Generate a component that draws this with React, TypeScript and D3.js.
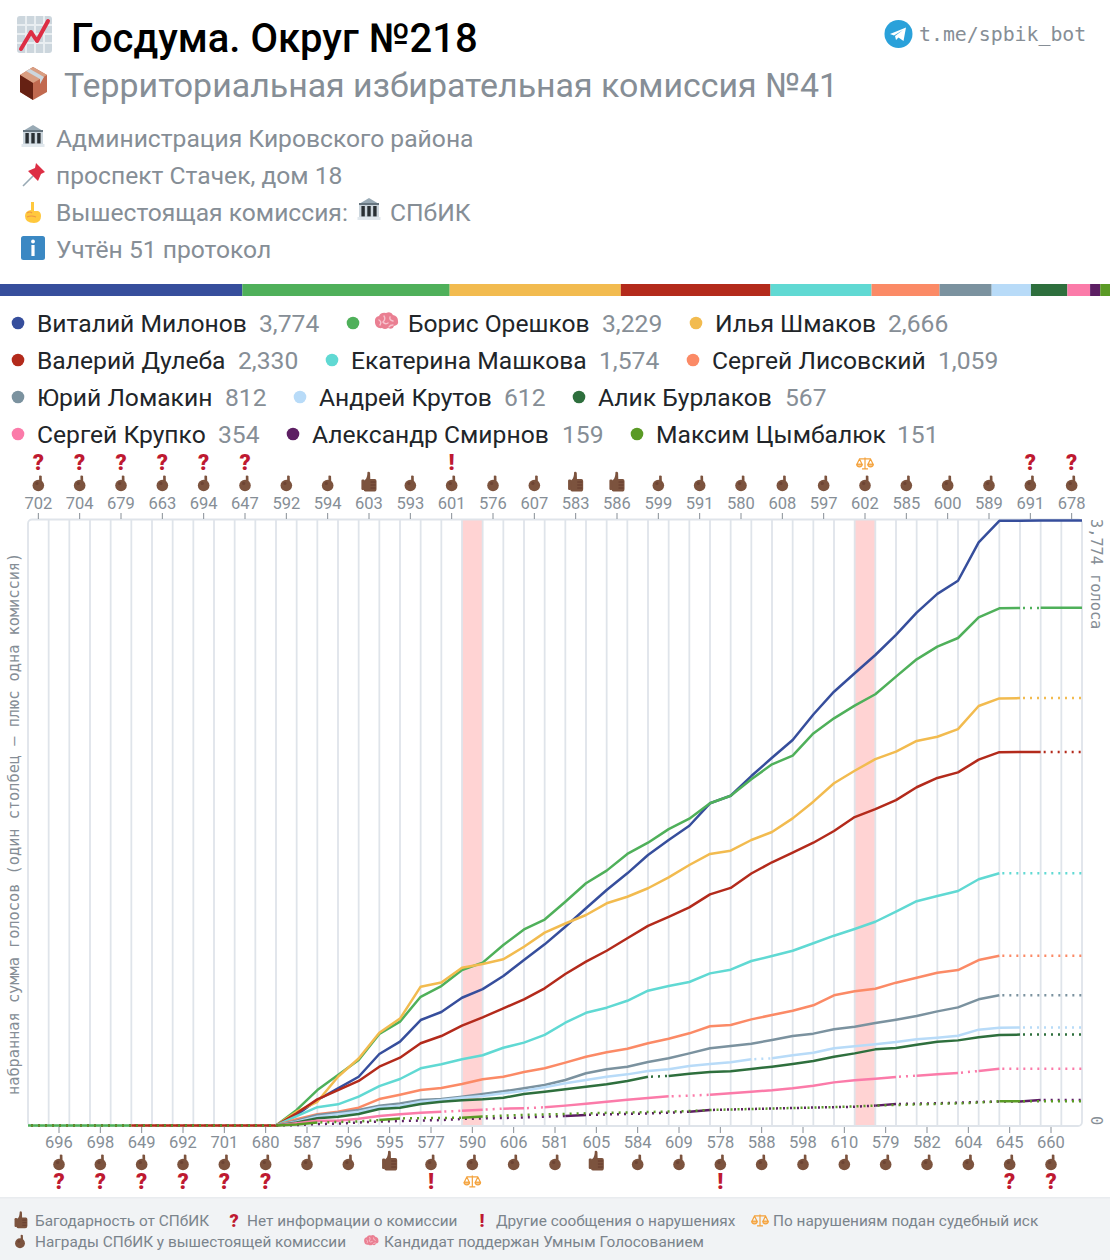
import React from "react";
import * as d3 from "d3";

const topLabels = ["702","704","679","663","694","647","592","594","603","593","601","576","607","583","586","599","591","580","608","597","602","585","600","589","691","678"];
const bottomLabels = ["696","698","649","692","701","680","587","596","595","577","590","606","581","605","584","609","578","588","598","610","579","582","604","645","660"];
const thumbLabels = ["603","583","586","595","605"];
const questionLabels = ["702","704","679","663","694","647","691","678","696","698","649","692","701","680","645","660"];
const alertLabels = ["601","577","578"];
const lawsuitLabels = ["602","590"];

const names = ["Виталий Милонов","Борис Орешков","Илья Шмаков","Валерий Дулеба","Екатерина Машкова","Сергей Лисовский","Юрий Ломакин","Андрей Крутов","Алик Бурлаков","Сергей Крупко","Александр Смирнов","Максим Цымбалюк"];
const totals = [3774,3229,2666,2330,1574,1059,812,612,567,354,159,151];
const colors = ["#364e9c","#4fb05a","#f2bb4f","#b32a1b","#60d9d3","#fb8a66","#7b929f","#b8dbf8","#2e6f3d","#fb7ba9","#5d1f63","#5a9a25"];

const milonov = [0,0,0,0,0,0,0,0,0,0,0,0,0,66,159,232,304,446,523,658,708,797,851,933,1032,1130,1240,1355,1469,1573,1687,1781,1870,2010,2057,2180,2294,2405,2564,2706,2821,2935,3060,3199,3316,3398,3638,3772,3773,3774,3774,3774];
const oreshkov = [0,0,0,0,0,0,0,0,0,0,0,0,0,97,221,315,409,571,648,803,870,970,1016,1126,1223,1285,1396,1511,1590,1694,1764,1849,1914,2010,2057,2160,2253,2307,2446,2540,2619,2690,2800,2908,2987,3041,3170,3226,3228,3229,3229,3229];
const shmakov = [0,0,0,0,0,0,0,0,0,0,0,0,0,86,148,304,418,579,667,866,892,984,1007,1037,1115,1203,1260,1313,1386,1427,1480,1548,1625,1694,1714,1781,1831,1916,2020,2135,2213,2285,2332,2399,2425,2473,2617,2664,2666,2666,2666,2666];
const duleba = [0,0,0,0,0,0,0,0,0,0,0,0,0,76,163,221,278,367,423,513,558,623,675,731,787,856,945,1022,1090,1168,1245,1302,1361,1442,1482,1572,1642,1702,1764,1837,1924,1974,2030,2110,2168,2203,2282,2329,2330,2330,2330,2330];
const mashkova = [0,0,0,0,0,0,0,0,0,0,0,0,0,59,114,132,180,246,290,357,382,413,438,485,517,565,641,703,735,778,841,870,895,949,972,1026,1057,1090,1137,1184,1226,1271,1334,1399,1432,1463,1536,1574,1574,1574,1574,1574];
const lisovsky = [0,0,0,0,0,0,0,0,0,0,0,0,0,39,70,86,111,165,192,221,234,259,288,304,334,357,392,429,457,479,513,541,575,619,627,662,689,716,750,812,837,853,891,922,953,970,1032,1059,1059,1059,1059,1059];
const lomakin = [0,0,0,0,0,0,0,0,0,0,0,0,0,30,66,80,97,124,138,159,165,180,197,213,232,253,284,326,351,367,396,419,450,482,496,510,533,558,573,600,616,639,660,683,712,737,787,812,812,812,812,812];
const krutov = [0,0,0,0,0,0,0,0,0,0,0,0,0,24,55,70,86,114,124,148,159,173,184,201,217,238,263,284,304,319,340,351,371,384,394,413,419,438,454,482,494,507,521,538,548,560,598,610,612,612,612,612];
const burlakov = [0,0,0,0,0,0,0,0,0,0,0,0,0,19,45,55,72,103,111,134,148,157,163,173,197,211,226,242,257,278,304,309,323,334,338,352,367,384,402,429,450,475,483,504,523,531,550,565,567,567,567,567];
const krupko = [0,0,0,0,0,0,0,0,0,0,0,0,0,14,30,30,42,59,70,80,86,92,99,105,107,114,124,136,148,161,172,182,186,192,201,211,220,232,248,269,282,292,303,311,319,328,340,354,354,354,354,354];
const smirnov = [0,0,0,0,0,0,0,0,0,0,0,0,0,3,9,12,19,25,28,31,34,41,44,47,50,55,59,66,69,72,75,80,86,97,100,103,106,109,112,114,117,124,134,136,139,142,147,150,150,159,159,159];
const tsymbalyuk = [0,0,0,0,0,0,0,0,0,0,0,0,0,6,19,22,25,34,44,46,47,49,56,61,66,69,72,76,79,81,84,87,90,97,100,103,106,109,112,115,119,124,128,131,135,138,143,151,151,151,151,151];
const seriesValues = [milonov,oreshkov,shmakov,duleba,mashkova,lisovsky,lomakin,krutov,burlakov,krupko,smirnov,tsymbalyuk];

// columns where a candidate's line is dotted
const E = [0,1,2,3,4,5,6,7,8,9,10,11];
const dottedMilonov = E;
const dottedOreshkov = [5,6,7,8,9,10,11,48];
const dottedShmakov = [...E,48,49,50];
const dottedDuleba = [0,1,2,3,4,49,50];
const dottedMashkova = [...E,47,48,49,50];
const dottedLisovsky = [...E,47,48,49,50];
const dottedLomakin = [...E,47,48,49,50];
const dottedKrutov = [...E,35,48,49,50];
const dottedBurlakov = [...E,30,48,49,50];
const dottedKrupko = [...E,20,22,24,31,32,42,45,47,48,49,50];
const solidSmirnov = [26,32,41,48];
const solidTsymbalyuk = [12,13,17,21,47];

const allCols = d3.range(51);
const dottedBySeries = [dottedMilonov,dottedOreshkov,dottedShmakov,dottedDuleba,dottedMashkova,dottedLisovsky,dottedLomakin,dottedKrutov,dottedBurlakov,dottedKrupko,
  allCols.filter(c=>!solidSmirnov.includes(c)), allCols.filter(c=>!solidTsymbalyuk.includes(c))];

const bandCols = [21,40];

const SANS = "Roboto, sans-serif";
const MONO = "'DejaVu Sans Mono', monospace";
const GRAY = "#868e96";
const FOOT = "#7b848c";
const W = 1110, H = 1260;
const L = 28, R = 1082, T = 520, B = 1126;

// legend layout: [dotX, nameX, valueX] per candidate, in names order
const legendLayout = [[18,37,259],[353,408,602],[696,715,888],[18,37,238],[332,351,599],[693,712,938],[18,37,225],[300,319,504],[579,598,785],[18,37,218],[293,312,562],[637,656,897]];
const legendRowY = [324,361,398,435];

const Hand = ({x,y,s=1}:{x:number,y:number,s?:number}) => (
  <g transform={`translate(${x},${y}) scale(${s})`} fill="#7c533e">
    <circle cx={0} cy={1.5} r={5.8}/>
    <path d="M0.8 -8.2 q1.6 -.9 2.6 .2 L3.6 0 L0.8 0 Z"/>
    <circle cx={-1.4} cy={-0.6} r={1.6} fill="#60352a" opacity={0.5}/>
  </g>
);
const Thumb = ({x,y,s=1}:{x:number,y:number,s?:number}) => (
  <g transform={`translate(${x},${y}) scale(${s})`} fill="#7c533e">
    <path d="M-1.5 -11 q2 -1 2.6 1 l.2 6 h4.4 q1.8 0 1.8 2 v8 q0 2.6 -2.6 2.6 h-8.4 q-1.8 0 -1.8 -2 v-7.6 q0 -1.4 1.4 -2.2 q2.2 -1.8 2.4 -7.8 Z"/>
    <rect x={-7.6} y={-3.4} width={3.2} height={10.4} rx={1.2}/>
    <path d="M1.6 -1 h5 M1.6 2 h5 M1.6 5 h5" stroke="#60352a" strokeWidth={0.8} fill="none"/>
  </g>
);
const Scales = ({x,y,s=0.85}:{x:number,y:number,s?:number}) => (
  <g transform={`translate(${x},${y}) scale(${s})`} stroke="#f4a23c" strokeWidth={1.4} fill="none" strokeLinejoin="round">
    <path d="M0 -6.5 V6.5 M-3.5 7 H3.5 M-6.5 -4.8 H6.5"/>
    <path d="M-6.5 -4.8 L-9.5 1.5 H-3.5 Z M6.5 -4.8 L3.5 1.5 H9.5 Z"/>
    <path d="M-9.7 1.5 a3.2 3 0 0 0 6.4 0 Z M3.3 1.5 a3.2 3 0 0 0 6.4 0 Z" fill="#f9c78a"/>
  </g>
);
const Mark = ({x,y,ch,size=22}:{x:number,y:number,ch:string,size?:number}) => (
  <text x={x} y={y} textAnchor="middle" fontFamily={SANS} fontWeight={900} fontSize={size} fill="#be1931">{ch}</text>
);
const Brain = ({x,y,s=1}:{x:number,y:number,s?:number}) => (
  <g transform={`translate(${x},${y}) scale(${s})`}>
    <path d="M-11 1 q-1 -6 4 -7 q2 -4 7 -3 q5 -2 7 2 q5 1 5 6 q1 4 -4 5 q-1 4 -6 2 q-3 2 -6 0 q-6 1 -7 -5 Z" fill="#ea7f92"/>
    <path d="M-7 -2 q3 2 1 5 M-2 -6 q2 3 -1 6 q2 3 5 1 M4 -5 q-1 3 3 4 M7 3 q-3 0 -4 2" stroke="#f7c2cd" strokeWidth={1.4} fill="none" strokeLinecap="round"/>
  </g>
);
const Bank = ({x,y,s=1}:{x:number,y:number,s?:number}) => (
  <g transform={`translate(${x},${y}) scale(${s})`}>
    <path d="M-10 -6 L0 -12 L10 -6 Z" fill="#99aab5"/>
    <rect x={-10} y={-7} width={20} height={2.4} fill="#66757f"/>
    <rect x={-10} y={-5} width={20} height={14} fill="#ccd6dd"/>
    <rect x={-7.6} y={-4} width={3.4} height={10.4} fill="#292f33"/>
    <rect x={-1.7} y={-4} width={3.4} height={10.4} fill="#292f33"/>
    <rect x={4.2} y={-4} width={3.4} height={10.4} fill="#292f33"/>
    <rect x={-11.5} y={7} width={23} height={3} fill="#e1e8ed"/>
  </g>
);

export default function App() {
  const x = d3.scaleLinear().domain([0, 51]).range([L, R]);
  const y = d3.scaleLinear().domain([0, 3774]).range([B - 0.5, T + 0.5]);
  const ordered: string[] = [];
  for (let i = 0; i < 26; i++) { ordered.push(topLabels[i]); if (i < 25) ordered.push(bottomLabels[i]); }
  const band = d3.scaleBand<string>().domain(ordered).range([L, R]);
  const stack = d3.scaleLinear().domain([0, d3.sum(totals)]).range([0, W]);
  let acc = 0;
  const stackRects = totals.map((t) => { const r = [acc, t]; acc += t; return r; });

  const pathFor = (vals: number[], cols: number[]) => {
    const line = d3.line<number>().x((i) => x(i)).y((i) => y(vals[i]));
    const sorted = [...cols].sort((a, b) => a - b);
    const runs: number[][] = [];
    sorted.forEach((c) => {
      const last = runs[runs.length - 1];
      if (last && last[1] === c) last[1] = c + 1; else runs.push([c, c + 1]);
    });
    return runs.map(([a, b]) => line(d3.range(a, b + 1))).join("");
  };

  const markers = (label: string, cx: number, handY: number, markY: number, scaleY: number) => (
    <g key={label}>
      {thumbLabels.includes(label) ? <Thumb x={cx} y={handY - 1} /> : <Hand x={cx} y={handY} />}
      {questionLabels.includes(label) && <Mark x={cx} y={markY} ch="?" />}
      {alertLabels.includes(label) && <Mark x={cx} y={markY} ch="!" />}
      {lawsuitLabels.includes(label) && <Scales x={cx} y={scaleY} />}
    </g>
  );

  return (
    <svg width={W} height={H} viewBox={`0 0 ${W} ${H}`} style={{ position: "absolute", left: 0, top: 0, background: "#fff" }} fontFamily={SANS}>
      {/* header */}
      <rect x={17} y={16} width={35} height={37} rx={3} fill="#ccd6dd"/>
      <path d="M17 25 H52 M17 34 H52 M17 43 H52 M26 16 V53 M35 16 V53 M44 16 V53" stroke="#e9eef1" strokeWidth={2}/>
      <path d="M21 49 L31 32 L37 41 L48 21" fill="none" stroke="#dd2e44" strokeWidth={4} strokeLinejoin="round" strokeLinecap="round"/>
      <text x={71} y={52} fontSize={40} fontWeight={500} fill="#000">Госдума. Округ №218</text>

      <path d="M33 67 L47 75 L47 92 L33 100 L20 92 L20 75 Z" fill="#c1694f"/>
      <path d="M33 67 L47 75 L33 83 L20 75 Z" fill="#d99e82"/>
      <path d="M20 75 L33 83 L33 100 L20 92 Z" fill="#662113"/>
      <path d="M26 71 L40 79 L40 84 L44 77 L30 69 Z" fill="#ccd6dd"/>
      <text x={64} y={97} fontSize={33.9} fill={GRAY}>Территориальная избирательная комиссия №41</text>

      <Bank x={33} y={137}/>
      <text x={56} y={147} fontSize={24.65} fill={GRAY}>Администрация Кировского района</text>
      <path d="M23 186 L33 176" stroke="#99aab5" strokeWidth={1.6}/>
      <path d="M36 163 L45 172 L41 174 L38 181 L28 171 L35 168 Z" fill="#dd2e44"/>
      <text x={56} y={184} fontSize={24.65} fill={GRAY}>проспект Стачек, дом 18</text>
      <path d="M31 202 h3 v9 h4 q3 1 3 5 q0 7 -7 7 q-9 0 -9 -7 q0 -5 6 -6 Z" fill="#ffc83d"/>
      <path d="M27 213 q3 -2 5 0 M27 217 q4 -2 9 0" stroke="#ef9645" fill="none" strokeWidth={1.2}/>
      <text x={56} y={221} fontSize={24.65} fill={GRAY}>Вышестоящая комиссия:</text>
      <Bank x={369} y={210}/>
      <text x={390} y={221} fontSize={24.65} fill={GRAY}>СПбИК</text>
      <rect x={21} y={236} width={24} height={24} rx={2.5} fill="#3b88c3"/>
      <circle cx={33} cy={241.5} r={1.9} fill="#fff"/>
      <rect x={31.4} y={245} width={3.2} height={11} fill="#fff"/>
      <text x={56} y={258} fontSize={24.65} fill={GRAY}>Учтён 51 протокол</text>

      <circle cx={898.5} cy={34} r={14} fill="#2aa1da"/>
      <path d="M890 34 L906 27.5 L903.5 41 L898.5 37.5 L896 40 L895 36 L903 30 L894 35.5 Z" fill="#fff"/>
      <text x={919} y={41} fontSize={19.85} fontFamily={MONO} fill={GRAY} >t.me/spbik_bot</text>

      {/* stacked bar */}
      {stackRects.map(([a, t], i) => (
        <rect key={i} x={stack(a)} y={284} width={stack(t)} height={12} fill={colors[i]} />
      ))}

      {/* legend */}
      {names.map((n, i) => {
        const row = Math.floor(i / 3);
        const [dx, nx, vx] = legendLayout[i];
        const ty = legendRowY[row];
        return (
          <g key={n}>
            <circle cx={dx} cy={ty - 1} r={6.3} fill={colors[i]} />
            {i === 1 && <Brain x={386} y={322} />}
            <text x={nx} y={ty + 7.5} fontSize={24.65} fill="#212529">{n}</text>
            <text x={vx} y={ty + 7.5} fontSize={24.65} fill={GRAY}>{d3.format(",")(totals[i])}</text>
          </g>
        );
      })}

      {/* plot frame & grid */}
      {bandCols.map((c) => (
        <rect key={c} x={x(c)} y={T} width={x(c + 1) - x(c)} height={B - T} fill="#ffd3d3" />
      ))}
      <rect x={L} y={T - 0.5} width={R - L} height={B - T + 0.5} rx={4} fill="none" stroke="#dfe4ea" strokeWidth={1.8} />
      {d3.range(1, 51).map((i) => (
        <line key={i} x1={x(i)} x2={x(i)} y1={T} y2={B} stroke="#dfe4ea" strokeWidth={1.8} />
      ))}

      {/* axes */}
      {topLabels.map((l) => {
        const cx = band(l)! + band.bandwidth() / 2;
        return (
          <g key={l}>
            <line x1={cx} x2={cx} y1={513} y2={519} stroke={GRAY} />
            <text x={cx} y={509} textAnchor="middle" fontSize={16.5} fill={GRAY}>{l}</text>
            {markers(l, cx, 484, 470, 463)}
          </g>
        );
      })}
      {bottomLabels.map((l) => {
        const cx = band(l)! + band.bandwidth() / 2;
        return (
          <g key={l}>
            <line x1={cx} x2={cx} y1={1127} y2={1133} stroke={GRAY} />
            <text x={cx} y={1148} textAnchor="middle" fontSize={16.5} fill={GRAY}>{l}</text>
            {markers(l, cx, 1163, 1189, 1181)}
          </g>
        );
      })}

      {/* lines */}
      {seriesValues.map((vals, i) => {
        const dotted = dottedBySeries[i];
        const solid = allCols.filter((c) => !dotted.includes(c));
        return (
          <g key={i} fill="none" stroke={colors[i]} strokeWidth={2.5}>
            <path d={pathFor(vals, solid)} strokeLinejoin="round" />
            <path d={pathFor(vals, dotted)} strokeDasharray="2 5" strokeDashoffset={-3} />
          </g>
        );
      })}

      {/* axis titles */}
      <text transform="translate(19,1095) rotate(-90)" fontFamily={MONO} fontSize={15.28} fill={GRAY}>набранная сумма голосов (один столбец — плюс одна комиссия)</text>
      <text transform="translate(1091,519) rotate(90)" fontFamily={MONO} fontSize={15.28} fill={GRAY}>3,774 голоса</text>
      <text transform="translate(1091,1116) rotate(90)" fontFamily={MONO} fontSize={15.28} fill={GRAY}>0</text>

      {/* footer */}
      <rect x={0} y={1198} width={W} height={62} fill="#f1f3f5" />
      <rect x={0} y={1197} width={W} height={1.5} fill="#e9ecef" />
      <Thumb x={21} y={1221} s={0.85}/>
      <text x={35} y={1226} fontSize={15.37} fill={FOOT}>Багодарность от СПбИК</text>
      <Mark x={234} y={1227} ch="?" size={18}/>
      <text x={247} y={1226} fontSize={15.37} fill={FOOT}>Нет информации о комиссии</text>
      <Mark x={482} y={1227} ch="!" size={18}/>
      <text x={496} y={1226} fontSize={15.37} fill={FOOT}>Другие сообщения о нарушениях</text>
      <Scales x={760} y={1220}/>
      <text x={773} y={1226} fontSize={15.37} fill={FOOT}>По нарушениям подан судебный иск</text>
      <Hand x={20} y={1242} s={0.85}/>
      <text x={35} y={1247} fontSize={15.37} fill={FOOT}>Награды СПбИК у вышестоящей комиссии</text>
      <Brain x={371} y={1241} s={0.62}/>
      <text x={384} y={1247} fontSize={15.37} fill={FOOT}>Кандидат поддержан Умным Голосованием</text>
    </svg>
  );
}
